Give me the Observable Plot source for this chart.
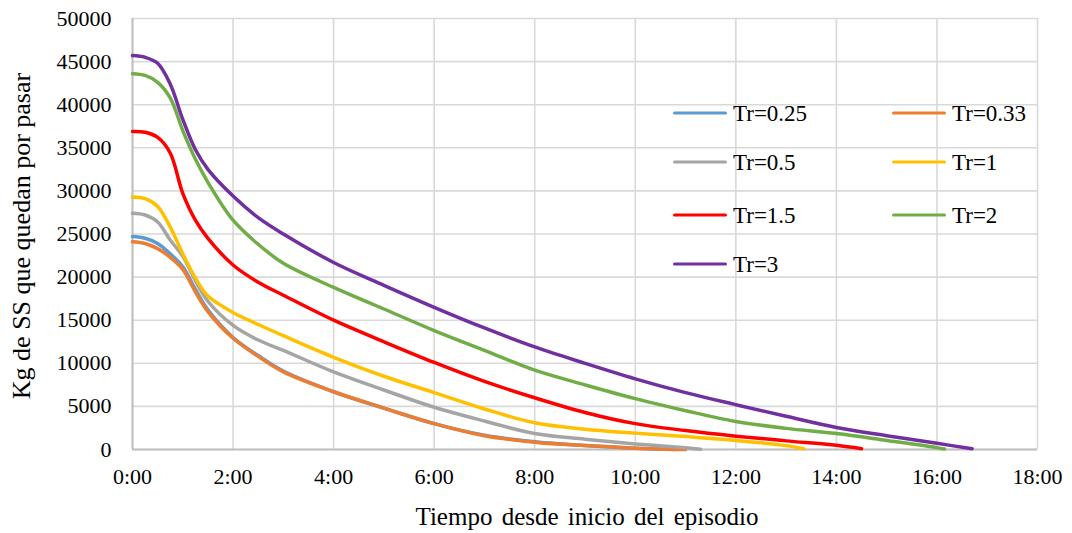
<!DOCTYPE html>
<html>
<head>
<meta charset="utf-8">
<script src="https://cdn.jsdelivr.net/npm/d3@7"></script>
<script src="https://cdn.jsdelivr.net/npm/@observablehq/plot@0.6"></script>
<style>
  html, body { margin: 0; padding: 0; background: #fff; }
  #wrap { position: relative; width: 1072px; height: 533px; font-family: "Liberation Serif", "Times New Roman", serif; color: #000; }
  #chart { position: absolute; left: 0; top: 0; }
  .ytitle { position: absolute; left: 22px; top: 236px; transform: translate(-50%, -50%) rotate(-90deg); font-size: 26px; white-space: nowrap; line-height: 1; }
  .xtitle { position: absolute; left: 587px; top: 516px; transform: translate(-50%, -50%); font-size: 25px; white-space: nowrap; line-height: 1; word-spacing: 3px; }
  .leg { position: absolute; display: flex; align-items: center; font-size: 23px; line-height: 1; transform: translateY(-50%); }
  .leg .sw { width: 54px; height: 3.5px; border-radius: 2px; margin-right: 6px; }
</style>
</head>
<body>
<div id="wrap">
  <div id="chart"></div>
  <div class="ytitle">Kg de SS que quedan por pasar</div>
  <div class="xtitle">Tiempo desde inicio del episodio</div>
</div>
<script>
// Series names and colours
const seriesNames = ["Tr=0.25", "Tr=0.33", "Tr=0.5", "Tr=1", "Tr=1.5", "Tr=2", "Tr=3"];
const seriesColors = ["#5B9BD5", "#ED7D31", "#A5A5A5", "#FFC000", "#FF0000", "#70AD47", "#7030A0"];

// Time (hours) and remaining kg for each series
const tr025_t = [0, 0.25, 0.5, 0.75, 1, 1.25, 1.5, 2, 2.5, 3, 4, 5, 6, 7, 8, 9, 10, 10.8];
const tr025_v = [24700, 24500, 23900, 22700, 21200, 18600, 16200, 13000, 10900, 9100, 6700, 4800, 3000, 1650, 900, 450, 150, 0];

const tr033_t = [0, 0.25, 0.5, 0.75, 1, 1.25, 1.5, 2, 2.5, 3, 4, 5, 6, 7, 8, 9, 10, 11];
const tr033_v = [24100, 23900, 23300, 22300, 20900, 18300, 16000, 12900, 10800, 9000, 6700, 4800, 3000, 1600, 850, 450, 150, 0];

const tr05_t = [0, 0.25, 0.5, 0.75, 1, 1.25, 1.5, 2, 2.5, 3, 4, 5, 6, 7, 8, 9, 10, 11, 11.3];
const tr05_v = [27400, 27200, 26400, 24300, 22400, 19600, 17200, 14400, 12700, 11500, 9000, 6900, 4900, 3300, 1850, 1200, 650, 200, 30];

const tr1_t = [0, 0.25, 0.5, 0.75, 1, 1.25, 1.5, 2, 2.5, 3, 4, 5, 6, 7, 8, 9, 10, 11, 12, 13, 13.35];
const tr1_v = [29300, 29100, 28200, 25800, 22700, 19900, 17800, 15900, 14500, 13200, 10700, 8500, 6600, 4700, 3100, 2350, 1900, 1500, 1050, 450, 80];

const tr15_t = [0, 0.25, 0.5, 0.75, 1, 1.25, 1.5, 2, 2.5, 3, 4, 5, 6, 7, 8, 9, 10, 11, 12, 13, 14, 14.5];
const tr15_v = [36900, 36800, 36200, 34400, 29700, 26600, 24500, 21400, 19400, 17900, 15000, 12500, 10100, 7900, 6000, 4300, 3000, 2200, 1550, 1000, 480, 80];

const tr2_t = [0, 0.25, 0.5, 0.75, 1, 1.25, 1.5, 2, 2.5, 3, 4, 5, 6, 7, 8, 9, 10, 11, 12, 13, 14, 15, 16, 16.15];
const tr2_v = [43600, 43400, 42600, 40800, 37000, 33700, 31000, 26600, 23800, 21600, 18800, 16300, 13800, 11500, 9200, 7500, 5900, 4500, 3250, 2450, 1850, 1050, 220, 60];

const tr3_t = [0, 0.25, 0.5, 0.75, 1, 1.25, 1.5, 2, 2.5, 3, 4, 5, 6, 7, 8, 9, 10, 11, 12, 13, 14, 15, 16, 16.7];
const tr3_v = [45700, 45500, 44800, 42400, 38300, 34800, 32500, 29400, 26900, 25000, 21700, 19050, 16500, 14100, 11900, 10000, 8200, 6600, 5200, 3850, 2550, 1600, 720, 80];

// Axis ticks
const xTicks = [0, 2, 4, 6, 8, 10, 12, 14, 16, 18];
const yTicks = [0, 5000, 10000, 15000, 20000, 25000, 30000, 35000, 40000, 45000, 50000];

const seriesT = [tr025_t, tr033_t, tr05_t, tr1_t, tr15_t, tr2_t, tr3_t];
const seriesV = [tr025_v, tr033_v, tr05_v, tr1_v, tr15_v, tr2_v, tr3_v];
const data = [];
seriesNames.forEach((name, i) => {
  seriesT[i].forEach((t, j) => data.push({s: name, t, v: seriesV[i][j]}));
});

const chart = Plot.plot({
  width: 1072,
  height: 533,
  marginLeft: 132,
  marginRight: 35,
  marginTop: 18,
  marginBottom: 84,
  style: { fontFamily: '"Liberation Serif", "Times New Roman", serif', fontSize: "22px", color: "#000", background: "#fff" },
  x: { domain: [0, 18] },
  y: { domain: [0, 50000] },
  color: { domain: seriesNames, range: seriesColors },
  marks: [
    Plot.gridX(xTicks, { stroke: "#d9d9d9", strokeOpacity: 1, strokeWidth: 1.6 }),
    Plot.gridY(yTicks, { stroke: "#d9d9d9", strokeOpacity: 1, strokeWidth: 1.6 }),
    Plot.ruleY([0], { stroke: "#bfbfbf", strokeWidth: 2 }),
    Plot.ruleX([0], { stroke: "#bfbfbf", strokeWidth: 2 }),
    Plot.axisX(xTicks, { tickSize: 0, tickPadding: 19, tickFormat: d => d + ":00", label: null, fontSize: 22 }),
    Plot.axisY(yTicks, { tickSize: 0, tickPadding: 21, tickFormat: d3.format("d"), label: null, fontSize: 22 }),
    Plot.line(data, { x: "t", y: "v", z: "s", stroke: "s", strokeWidth: 3.5, curve: "catmull-rom" })
  ]
});
document.getElementById("chart").appendChild(chart);

// Legend (two columns, transparent background)
const legendPos = [
  [673, 113], [892, 113],
  [673, 162], [892, 162],
  [673, 215], [892, 215],
  [673, 264]
];
const wrap = document.getElementById("wrap");
seriesNames.forEach((name, i) => {
  const el = document.createElement("div");
  el.className = "leg";
  el.style.left = legendPos[i][0] + "px";
  el.style.top = legendPos[i][1] + "px";
  el.innerHTML = `<span class="sw" style="background:${seriesColors[i]}"></span><span>${name}</span>`;
  wrap.appendChild(el);
});
</script>
</body>
</html>
